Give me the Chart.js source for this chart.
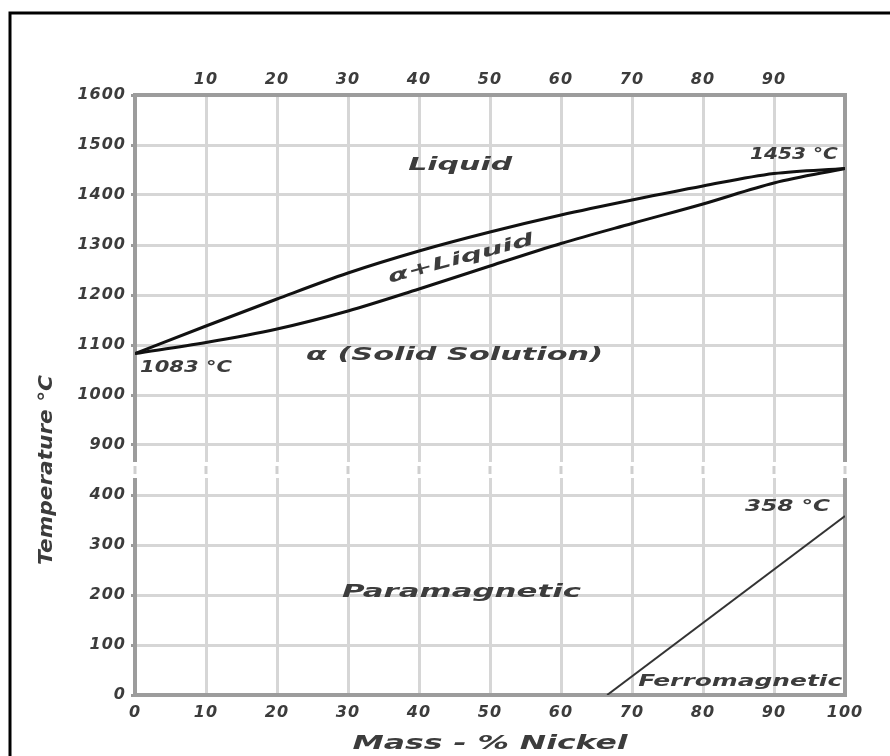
<!DOCTYPE html>
<html lang="en">
<head>
    <meta charset="UTF-8">
    <title>Cu-Ni phase diagram</title>
    <script src="https://cdn.jsdelivr.net/npm/chart.js"></script>
    <style>
        body, html {
            margin: 0;
            padding: 0;
            background: #fff;
        }
        #wrap {
            width: 890px;
            height: 756px;
        }
    </style>
</head>
<body>
    <div id="wrap"><canvas id="chart" width="890" height="756"></canvas></div>

    <script>
        // data
        var nickel = [0, 10, 20, 30, 40, 50, 60, 70, 80, 90, 100];
        var liquidusT = [1083, 1138, 1192, 1244, 1288, 1326, 1360, 1390, 1418, 1443, 1453];
        var solidusT = [1083, 1105, 1132, 1168, 1212, 1258, 1303, 1343, 1382, 1424, 1453];
        var curieNi = [66.5, 100];
        var curieT = [0, 358];
        var xTicks = [0, 10, 20, 30, 40, 50, 60, 70, 80, 90, 100];
        var yTicksLow = [0, 100, 200, 300, 400];
        var yTicksHigh = [900, 1000, 1100, 1200, 1300, 1400, 1500, 1600];

        // broken axis: 0..400 kept, 900..1600 shifted down by 400
        var BREAK_LOW = 400, BREAK_HIGH = 900, SHIFT = BREAK_HIGH - BREAK_LOW - 100;
        function toAxis(t) { return t <= BREAK_LOW + 50 ? t : t - SHIFT; }
        function toTemp(v) { return v <= BREAK_LOW + 50 ? v : v + SHIFT; }

        function pairs(xs, ts) {
            return xs.map(function (x, i) { return { x: x, y: toAxis(ts[i]) }; });
        }

        var FONT = '"DejaVu Sans", sans-serif';
        var INK = '#3c3c3c';

        var regionLabels = [
            { text: 'Liquid', x: 45.8, t: 1460, w: 104, size: 18 },
            { text: 'α+Liquid', x: 45.9, t: 1272, w: 150, size: 17, angle: -15 },
            { text: 'α (Solid Solution)', x: 45, t: 1080, w: 297, size: 18 },
            { text: '1083 °C', x: 0.7, t: 1054, w: 92, size: 16, align: 'left' },
            { text: '1453 °C', x: 99.0, t: 1480, w: 88, size: 16, align: 'right' },
            { text: 'Paramagnetic', x: 46, t: 206, w: 239, size: 18 },
            { text: '358 °C', x: 97.9, t: 376, w: 85, size: 16, align: 'right' },
            { text: 'Ferromagnetic', x: 99.6, t: 26, w: 204, size: 16, align: 'right' }
        ];

        function stretchedText(ctx, text, px, py, w, size, align, angle) {
            ctx.save();
            ctx.font = 'italic bold ' + size + 'px ' + FONT;
            ctx.fillStyle = INK;
            ctx.textBaseline = 'middle';
            ctx.textAlign = align || 'center';
            var m = ctx.measureText(text).width;
            ctx.translate(px, py);
            if (angle) ctx.rotate(angle * Math.PI / 180);
            ctx.scale(w / m, 1);
            ctx.fillText(text, 0, 0);
            ctx.restore();
        }

        var decor = {
            id: 'decor',
            beforeDraw: function (chart) {
                var ctx = chart.ctx;
                ctx.save();
                ctx.fillStyle = '#fff';
                ctx.fillRect(0, 0, chart.width, chart.height);
                ctx.restore();
                ctx.letterSpacing = '1px';
            },
            beforeDatasetsDraw: function (chart) {
                var ctx = chart.ctx;
                ctx.letterSpacing = '0px';
                var a = chart.chartArea;
                var y = chart.scales.y, x = chart.scales.x;
                // plot frame
                ctx.save();
                ctx.strokeStyle = '#9c9c9c';
                ctx.lineWidth = 4;
                ctx.strokeRect(a.left, a.top, a.right - a.left, a.bottom - a.top);
                // axis break
                var yb = y.getPixelForValue(BREAK_LOW + 50);
                ctx.fillStyle = '#fff';
                ctx.fillRect(a.left - 4, yb - 8, a.right - a.left + 8, 16);
                ctx.strokeStyle = '#cfcfcf';
                ctx.lineWidth = 3;
                xTicks.forEach(function (v) {
                    var px = x.getPixelForValue(v);
                    ctx.beginPath();
                    ctx.moveTo(px, yb - 4);
                    ctx.lineTo(px, yb + 4);
                    ctx.stroke();
                });
                ctx.restore();
            },
            afterDatasetsDraw: function (chart) {
                var ctx = chart.ctx;
                var x = chart.scales.x, y = chart.scales.y;
                regionLabels.forEach(function (l) {
                    stretchedText(ctx, l.text, x.getPixelForValue(l.x), y.getPixelForValue(toAxis(l.t)),
                        l.w, l.size, l.align, l.angle);
                });
            },
            afterDraw: function (chart) {
                var ctx = chart.ctx;
                stretchedText(ctx, 'Temperature °C', 47, 470, 190, 19, 'center', -90);
                stretchedText(ctx, 'Mass - % Nickel', 490, 744, 275, 19, 'center', 0);
                // outer black frame (left and top only visible)
                ctx.save();
                ctx.strokeStyle = '#000';
                ctx.lineWidth = 3;
                ctx.beginPath();
                ctx.moveTo(10, 756);
                ctx.lineTo(10, 13);
                ctx.lineTo(890, 13);
                ctx.stroke();
                ctx.restore();
            }
        };

        var tickFont = { family: FONT, size: 16, style: 'italic', weight: 'bold' };
        var gridColor = '#d6d6d6';

        new Chart(document.getElementById('chart'), {
            type: 'line',
            data: {
                datasets: [
                    {
                        label: 'Liquidus',
                        data: pairs(nickel, liquidusT),
                        borderColor: '#111',
                        borderWidth: 3,
                        pointRadius: 0,
                        cubicInterpolationMode: 'monotone',
                        fill: false
                    },
                    {
                        label: 'Solidus',
                        data: pairs(nickel, solidusT),
                        borderColor: '#111',
                        borderWidth: 3,
                        pointRadius: 0,
                        cubicInterpolationMode: 'monotone',
                        fill: false
                    },
                    {
                        label: 'Curie',
                        data: pairs(curieNi, curieT),
                        borderColor: '#333',
                        borderWidth: 2,
                        pointRadius: 0,
                        fill: false
                    }
                ]
            },
            options: {
                responsive: false,
                animation: false,
                devicePixelRatio: 1,
                layout: { padding: { left: 0, right: 45, top: 0, bottom: 0 } },
                plugins: {
                    legend: { display: false },
                    tooltip: { enabled: false }
                },
                scales: {
                    x: {
                        type: 'linear',
                        position: 'bottom',
                        min: 0,
                        max: 100,
                        afterBuildTicks: function (s) { s.ticks = xTicks.map(function (v) { return { value: v }; }); },
                        ticks: { font: tickFont, color: INK, padding: 8, maxRotation: 0, autoSkip: false },
                        grid: { color: gridColor, lineWidth: 3, drawTicks: false },
                        border: { display: false },
                        afterFit: function (s) { s.height = 61; }
                    },
                    xTop: {
                        type: 'linear',
                        position: 'top',
                        min: 0,
                        max: 100,
                        afterBuildTicks: function (s) { s.ticks = xTicks.map(function (v) { return { value: v }; }); },
                        ticks: {
                            font: tickFont, color: INK, padding: 6, maxRotation: 0, autoSkip: false,
                            callback: function (v) { return (v > 0 && v < 100) ? v : ''; }
                        },
                        grid: { display: false, drawTicks: false },
                        border: { display: false },
                        afterFit: function (s) { s.height = 95; }
                    },
                    y: {
                        type: 'linear',
                        min: 0,
                        max: toAxis(1600),
                        afterBuildTicks: function (s) {
                            s.ticks = yTicksLow.concat(yTicksHigh).map(function (t) { return { value: toAxis(t) }; });
                        },
                        ticks: {
                            font: tickFont, color: INK, padding: 5, autoSkip: false,
                            callback: function (v) { return toTemp(v); }
                        },
                        grid: { color: gridColor, lineWidth: 3, tickLength: 4, tickColor: '#999' },
                        border: { display: false },
                        afterFit: function (s) { s.width = 135; }
                    }
                }
            },
            plugins: [decor]
        });
    </script>
</body>
</html>
